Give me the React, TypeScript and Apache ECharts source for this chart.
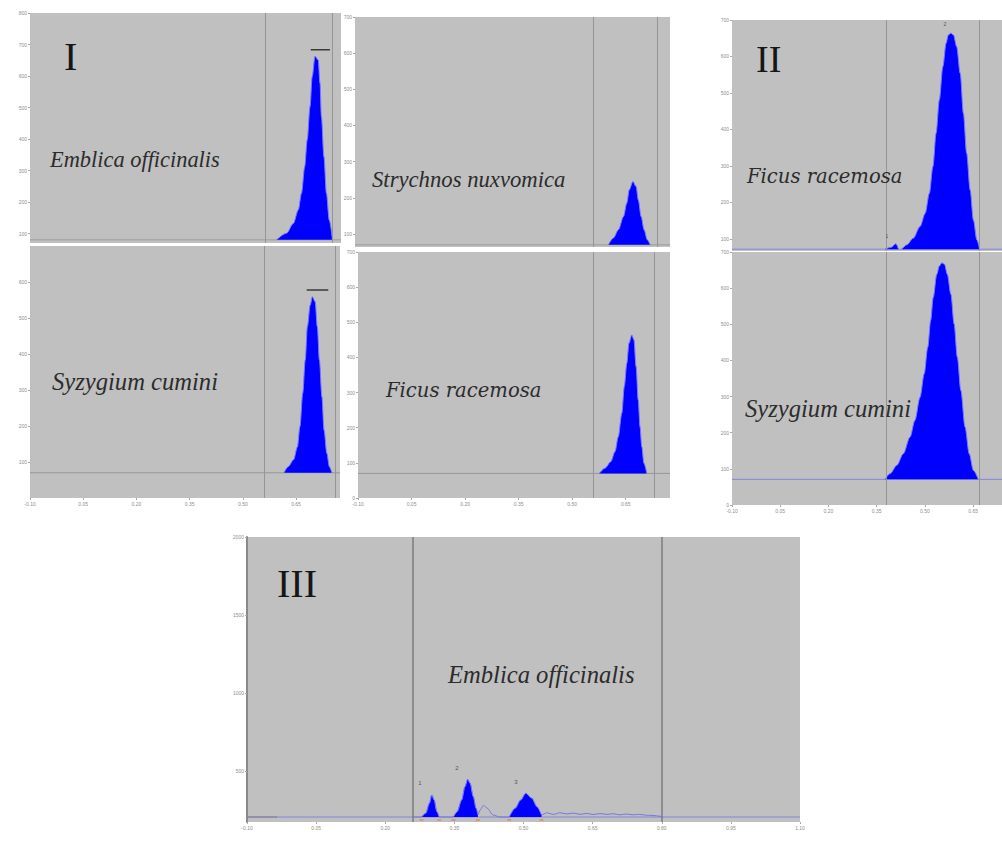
import React, { useEffect, useRef } from "react";
import * as echarts from "echarts";

type Pt = [number, number];

// ---------------- Data (Rf on x, AU on y) ----------------
const X_MIN = -0.1;
const X_MAX_I = 0.774;
const X_MAX_II = 0.74;
const X_MAX_III = 1.1;

const xTicksI = [-0.1, 0.05, 0.2, 0.35, 0.5, 0.65];
const xTicksII = [-0.1, 0.05, 0.2, 0.35, 0.5, 0.65];
const xTicksIII = [-0.1, 0.05, 0.2, 0.35, 0.5, 0.65, 0.8, 0.95, 1.1];

const yTicksEmblicaI = [100, 200, 300, 400, 500, 600, 700, 800];
const yTicksStrychnos = [100, 200, 300, 400, 500, 600, 700];
const yTicksSyzygiumI = [100, 200, 300, 400, 500, 600];
const yTicksFicusI = [0, 100, 200, 300, 400, 500, 600, 700];
const yTicksFicusII = [100, 200, 300, 400, 500, 600, 700];
const yTicksSyzygiumII = [0, 100, 200, 300, 400, 500, 600, 700];
const yTicksEmblicaIII = [500, 1000, 1500, 2000];

const yRangeEmblicaI = [70, 800];
const yRangeStrychnos = [64, 700];
const yRangeSyzygiumI = [0, 700];
const yRangeFicusI = [0, 700];
const yRangeFicusII = [67, 700];
const yRangeSyzygiumII = [0, 700];
const yRangeEmblicaIII = [173, 2000];

const baseEmblicaI = 80;
const baseStrychnos = 70;
const baseSyzygiumI = 70;
const baseFicusI = 70;
const baseFicusII = 72;
const baseSyzygiumII = 71;
const baseEmblicaIII = 205;

const frontsEmblicaI = [0.557, 0.754];
const frontsStrychnos = [0.558, 0.738];
const frontsSyzygiumI = [0.56, 0.757];
const frontsFicusI = [0.555, 0.735];
const frontsFicusII = [0.376, 0.666];
const frontsSyzygiumII = [0.376, 0.666];
const frontsEmblicaIII = [0.258, 0.803];

const peakEmblicaI: Pt[] = [
  [0.593, 80], [0.621, 101], [0.64, 132], [0.654, 175], [0.663, 228], [0.672, 312],
  [0.679, 397], [0.687, 503], [0.693, 598], [0.701, 663], [0.71, 651], [0.715, 577],
  [0.719, 471], [0.726, 344], [0.733, 228], [0.741, 143], [0.75, 80],
];
const barEmblicaI: Pt[] = [[0.689, 683], [0.743, 683]];

const peakStrychnos: Pt[] = [
  [0.603, 70], [0.617, 89], [0.631, 112], [0.645, 148], [0.654, 185], [0.661, 222],
  [0.671, 245], [0.68, 231], [0.686, 194], [0.694, 148], [0.702, 112], [0.711, 84], [0.719, 70],
];

const peakSyzygiumI: Pt[] = [
  [0.616, 70], [0.628, 87], [0.643, 106], [0.654, 142], [0.661, 198], [0.669, 291],
  [0.676, 383], [0.682, 476], [0.69, 536], [0.696, 559], [0.704, 545], [0.71, 476],
  [0.716, 383], [0.723, 281], [0.729, 189], [0.737, 124], [0.744, 87], [0.751, 70],
];
const barSyzygiumI: Pt[] = [[0.68, 578], [0.741, 578]];

const peakFicusI: Pt[] = [
  [0.576, 70], [0.592, 85], [0.608, 103], [0.62, 132], [0.629, 174], [0.639, 241],
  [0.646, 317], [0.653, 383], [0.659, 440], [0.667, 464], [0.673, 450], [0.679, 374],
  [0.685, 279], [0.69, 203], [0.695, 146], [0.701, 99], [0.709, 70],
];

const bumpFicusII: Pt[] = [[0.376, 72], [0.395, 77], [0.41, 87], [0.418, 72]];
const peakFicusII: Pt[] = [
  [0.428, 72], [0.444, 84], [0.464, 102], [0.485, 134], [0.501, 170], [0.514, 225],
  [0.525, 298], [0.535, 390], [0.545, 481], [0.556, 572], [0.566, 636], [0.573, 659],
  [0.581, 664], [0.589, 659], [0.599, 627], [0.61, 554], [0.62, 444], [0.63, 335],
  [0.641, 234], [0.651, 152], [0.662, 97], [0.67, 72],
];

const peakSyzygiumII: Pt[] = [
  [0.376, 71], [0.392, 87], [0.413, 110], [0.433, 142], [0.454, 188], [0.469, 234],
  [0.485, 298], [0.498, 363], [0.509, 436], [0.518, 510], [0.526, 574], [0.537, 638],
  [0.545, 661], [0.553, 670], [0.561, 666], [0.57, 638], [0.581, 583], [0.591, 501],
  [0.601, 409], [0.612, 317], [0.625, 216], [0.638, 142], [0.651, 96], [0.666, 71],
];

// Panel III (Emblica officinalis, three peaks)
const leadIII: Pt[] = [[0.258, 205]];
const peak1III: Pt[] = [[0.279, 205], [0.288, 229], [0.296, 293], [0.301, 346], [0.306, 314], [0.312, 239], [0.317, 205]];
const peak2III: Pt[] = [[0.348, 205], [0.356, 239], [0.366, 314], [0.373, 399], [0.379, 447], [0.384, 421], [0.391, 335], [0.397, 261], [0.401, 218]];
const humpIII: Pt[] = [[0.406, 250], [0.413, 280], [0.421, 262], [0.434, 218], [0.449, 205], [0.465, 205]];
const peak3III: Pt[] = [[0.469, 205], [0.482, 261], [0.494, 314], [0.505, 357], [0.518, 325], [0.529, 271], [0.539, 218]];
const noiseIII: Pt[] = [
  [0.55, 232], [0.565, 222], [0.579, 232], [0.594, 225], [0.608, 230], [0.623, 222],
  [0.637, 228], [0.651, 221], [0.666, 227], [0.681, 222], [0.695, 226], [0.709, 219],
  [0.724, 224], [0.738, 219], [0.752, 222], [0.767, 216], [0.781, 215], [0.796, 210], [0.803, 205],
];
const boundsIII = [0.279, 0.317, 0.348, 0.401, 0.469, 0.539];
const peakNamesIII = ["1", "2", "3"];

// ---------------- Chart ----------------
interface Panel {
  grid: { left: number; top: number; width: number; height: number };
  xMax: number;
  yRange: number[];
  xTicks: number[] | null;
  yTicks: number[];
  base: number;
  baseColor: string;
  fronts: number[];
  frontColor: string;
  frontWidth: number;
  peaks: Pt[][];
  bar?: Pt[];
  axisLine?: boolean;
}

const BLUE = "#0000ff";
const EDGE = "#7878ff";
const PURPLE = "#8484dc";

function buildOption() {
  const panels: Panel[] = [
    { grid: { left: 30, top: 13, width: 311, height: 230 }, xMax: X_MAX_I, yRange: yRangeEmblicaI, xTicks: null, yTicks: yTicksEmblicaI, base: baseEmblicaI, baseColor: "#9c9c9c", fronts: frontsEmblicaI, frontColor: "#959595", frontWidth: 1, peaks: [peakEmblicaI], bar: barEmblicaI },
    { grid: { left: 355, top: 17, width: 315, height: 230 }, xMax: X_MAX_I, yRange: yRangeStrychnos, xTicks: null, yTicks: yTicksStrychnos, base: baseStrychnos, baseColor: "#9c9c9c", fronts: frontsStrychnos, frontColor: "#959595", frontWidth: 1, peaks: [peakStrychnos] },
    { grid: { left: 30, top: 246, width: 310, height: 252 }, xMax: X_MAX_I, yRange: yRangeSyzygiumI, xTicks: xTicksI, yTicks: yTicksSyzygiumI, base: baseSyzygiumI, baseColor: "#969696", fronts: frontsSyzygiumI, frontColor: "#959595", frontWidth: 1, peaks: [peakSyzygiumI], bar: barSyzygiumI },
    { grid: { left: 358, top: 252, width: 312, height: 246 }, xMax: X_MAX_I, yRange: yRangeFicusI, xTicks: xTicksI, yTicks: yTicksFicusI, base: baseFicusI, baseColor: "#969696", fronts: frontsFicusI, frontColor: "#959595", frontWidth: 1, peaks: [peakFicusI] },
    { grid: { left: 732, top: 20, width: 270, height: 231 }, xMax: X_MAX_II, yRange: yRangeFicusII, xTicks: null, yTicks: yTicksFicusII, base: baseFicusII, baseColor: PURPLE, fronts: frontsFicusII, frontColor: "#959595", frontWidth: 1, peaks: [bumpFicusII, peakFicusII] },
    { grid: { left: 732, top: 252, width: 270, height: 253 }, xMax: X_MAX_II, yRange: yRangeSyzygiumII, xTicks: xTicksII, yTicks: yTicksSyzygiumII, base: baseSyzygiumII, baseColor: PURPLE, fronts: frontsSyzygiumII, frontColor: "#959595", frontWidth: 1, peaks: [peakSyzygiumII] },
    { grid: { left: 247, top: 537, width: 553, height: 285 }, xMax: X_MAX_III, yRange: yRangeEmblicaIII, xTicks: xTicksIII, yTicks: yTicksEmblicaIII, base: baseEmblicaIII, baseColor: PURPLE, fronts: frontsEmblicaIII, frontColor: "#7c7c7c", frontWidth: 1.5, peaks: [peak1III, peak2III, peak3III], axisLine: true },
  ];

  const grid = panels.map((p) => ({ ...p.grid, show: true, backgroundColor: "#c0c0c0", borderWidth: 0 }));
  const tickLabel = { fontSize: 5, color: "#8e8e8e", fontFamily: "Liberation Sans" };
  const xAxis = panels.map((p, i) => ({
    type: "value", gridIndex: i, min: X_MIN, max: p.xMax,
    axisLine: { show: false, onZero: false },
    axisTick: { show: !!p.xTicks, length: 2, customValues: p.xTicks || undefined, lineStyle: { color: "#a8a8a8" } },
    axisLabel: { show: !!p.xTicks, customValues: p.xTicks || undefined, margin: 3, ...tickLabel, formatter: (v: number) => v.toFixed(2) },
    splitLine: { show: false },
  }));
  const yAxis = panels.map((p, i) => ({
    type: "value", gridIndex: i, min: p.yRange[0], max: p.yRange[1],
    axisLine: { show: !!p.axisLine, onZero: false, lineStyle: { color: "#8a8a8a", width: 2 } },
    axisTick: { show: true, length: 2, customValues: p.yTicks, lineStyle: { color: "#a8a8a8" } },
    axisLabel: { customValues: p.yTicks, margin: 3, ...tickLabel, formatter: (v: number) => String(v) },
    splitLine: { show: false },
  }));

  const series: any[] = [];
  panels.forEach((p, i) => {
    series.push({
      type: "line", xAxisIndex: i, yAxisIndex: i, z: 2, symbol: "none", silent: true,
      data: [[X_MIN, p.base], [p.xMax, p.base]],
      lineStyle: { color: p.baseColor, width: 1 },
      markLine: {
        symbol: ["none", "none"], silent: true, label: { show: false },
        lineStyle: { color: p.frontColor, width: p.frontWidth, type: "solid" },
        data: p.fronts.map((v) => ({ xAxis: v })),
      },
    });
    p.peaks.forEach((pk) => {
      series.push({
        type: "line", xAxisIndex: i, yAxisIndex: i, z: 4, symbol: "none", silent: true,
        smooth: 0.3, smoothMonotone: "x", data: pk,
        lineStyle: { color: EDGE, width: 1 },
        areaStyle: { color: BLUE, opacity: 1, origin: p.base },
      });
    });
    if (p.bar) {
      series.push({
        type: "line", xAxisIndex: i, yAxisIndex: i, z: 5, symbol: "none", silent: true,
        data: p.bar, lineStyle: { color: "#3a3a3a", width: 1.5 },
      });
    }
  });

  // Panel III trace (thin line) and boundary ticks
  const gIII = panels.length - 1;
  series.push({
    type: "line", xAxisIndex: gIII, yAxisIndex: gIII, z: 3, symbol: "none", silent: true,
    smooth: 0.3, smoothMonotone: "x",
    data: [...leadIII, ...peak1III, ...peak2III, ...humpIII, ...peak3III, ...noiseIII],
    lineStyle: { color: "#7676e6", width: 1 },
  });
  series.push({
    type: "line", xAxisIndex: gIII, yAxisIndex: gIII, z: 3, symbol: "none", silent: true,
    data: [[X_MIN, baseEmblicaIII], [-0.035, baseEmblicaIII]],
    lineStyle: { color: "#7e7e7e", width: 1 },
  });
  series.push({
    type: "scatter", xAxisIndex: gIII, yAxisIndex: gIII, z: 5, silent: true,
    symbol: "rect", symbolSize: [4, 1.5],
    data: boundsIII.map((b) => [b, 186]),
    itemStyle: { color: "#e0804a" },
  });

  const serifItalic = (size: number, family = "Liberation Serif") => ({
    fontFamily: family, fontSize: size, fontStyle: "italic", fill: "#2c2c2c",
    textAlign: "left", textVerticalAlign: "middle",
  });
  const roman = (size: number) => ({
    fontFamily: "Liberation Serif", fontSize: size, fill: "#161616",
    textAlign: "left", textVerticalAlign: "middle",
  });
  const tiny = (size: number) => ({
    fontFamily: "Liberation Sans", fontSize: size, fill: "#555555",
    textAlign: "center", textVerticalAlign: "middle",
  });

  const graphic = [
    { type: "text", x: 64, y: 56.5, z: 10, style: { text: "I", ...roman(40) } },
    { type: "text", x: 756, y: 59, z: 10, style: { text: "II", ...roman(38) } },
    { type: "text", x: 277, y: 583.5, z: 10, style: { text: "III", ...roman(40) } },
    { type: "text", x: 50, y: 159.5, z: 10, style: { text: "Emblica officinalis", ...serifItalic(22.4) } },
    { type: "text", x: 372, y: 179.3, z: 10, style: { text: "Strychnos nuxvomica", ...serifItalic(22.7) } },
    { type: "text", x: 52, y: 381.7, z: 10, style: { text: "Syzygium cumini", ...serifItalic(24.6) } },
    { type: "text", x: 386, y: 390, z: 10, style: { text: "Ficus racemosa", ...serifItalic(19.6, "DejaVu Serif") } },
    { type: "text", x: 747, y: 176.2, z: 10, style: { text: "Ficus racemosa", ...serifItalic(19.6, "DejaVu Serif") } },
    { type: "text", x: 745, y: 408.7, z: 10, style: { text: "Syzygium cumini", ...serifItalic(24.6) } },
    { type: "text", x: 448, y: 674.7, z: 10, style: { text: "Emblica officinalis", ...serifItalic(24.6) } },
    { type: "text", x: 420, y: 783, z: 10, style: { text: peakNamesIII[0], ...tiny(6) } },
    { type: "text", x: 457, y: 768, z: 10, style: { text: peakNamesIII[1], ...tiny(6) } },
    { type: "text", x: 516, y: 782, z: 10, style: { text: peakNamesIII[2], ...tiny(6) } },
    { type: "text", x: 887, y: 236, z: 10, style: { text: "1", ...tiny(5) } },
    { type: "text", x: 945, y: 24, z: 10, style: { text: "2", ...tiny(5) } },
  ];

  return { animation: false, backgroundColor: "#ffffff", grid, xAxis, yAxis, series, graphic };
}

export default function App() {
  const ref = useRef<HTMLDivElement>(null);
  useEffect(() => {
    document.body.style.margin = "0";
    if (!ref.current) return;
    const chart = echarts.init(ref.current, undefined, { renderer: "svg" });
    chart.setOption(buildOption() as any);
    return () => chart.dispose();
  }, []);
  return <div ref={ref} style={{ width: 1002, height: 860 }} />;
}
